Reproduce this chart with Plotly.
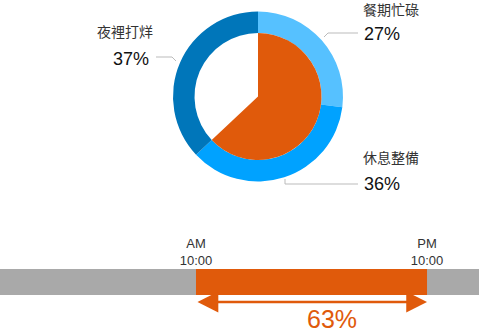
import plotly.graph_objects as go

# ---------------- data ----------------
ring_labels = ["餐期忙碌", "休息整備", "夜裡打烊"]
ring_values = [27, 36, 37]
ring_colors = ["#56C1FF", "#00A2FF", "#0076BA"]

open_share_labels = ["營業", "其他"]
open_share_values = [63, 37]

day_start = -0.18
day_end = 24.7
open_hour = 10
close_hour = 22
tick_vals = [10, 22]
tick_text = ["AM<br>10:00", "PM<br>10:00"]
open_pct_text = "63%"

ORANGE = "#E05A0B"
GRAY = "#A9A9A9"
W, H = 479, 330
FONT = "Helvetica, 'Liberation Sans', 'Noto Sans CJK TC', sans-serif"
CJK = "'Noto Sans CJK TC', sans-serif"

def px(x):
    return x / W

def py(y):
    return 1 - y / H

cx, cy, R, r_in = 258, 96.5, 85, 63.5

fig = go.Figure()

fig.add_trace(go.Pie(
    labels=ring_labels, values=ring_values, hole=r_in / R,
    marker=dict(colors=ring_colors, line=dict(width=0)),
    sort=False, direction="clockwise", rotation=0,
    textinfo="none", hoverinfo="label+percent", showlegend=False,
    domain=dict(x=[px(cx - R), px(cx + R)], y=[py(cy + R), py(cy - R)]),
))
fig.add_trace(go.Pie(
    labels=open_share_labels, values=open_share_values,
    marker=dict(colors=[ORANGE, "rgba(255,255,255,0)"], line=dict(width=0)),
    sort=False, direction="clockwise", rotation=0,
    textinfo="none", hoverinfo="none", showlegend=False,
    domain=dict(x=[px(cx - r_in), px(cx + r_in)], y=[py(cy + r_in), py(cy - r_in)]),
))

# timeline bars
fig.add_trace(go.Bar(
    y=[48], x=[day_end - day_start], base=[day_start], orientation="h",
    width=26, marker=dict(color=GRAY, line=dict(width=0)), showlegend=False,
    hoverinfo="skip",
))
fig.add_trace(go.Bar(
    y=[48], x=[close_hour - open_hour], base=[open_hour], orientation="h",
    width=26, marker=dict(color=ORANGE, line=dict(width=0)), showlegend=False,
    hoverinfo="skip",
))

annotations = []
label_specs = [
    (ring_labels[2], 125, 31, "center", f"{ring_values[2]}%", 151, 59, "right"),
    (ring_labels[0], 362, 9, "left", f"{ring_values[0]}%", 362, 34, "left"),
    (ring_labels[1], 362, 157, "left", f"{ring_values[1]}%", 362, 184, "left"),
]
for name, nx, ny, na, pct, qx, qy, qa in label_specs:
    annotations.append(dict(text=name, x=px(nx), y=py(ny), xref="paper", yref="paper",
                            xanchor=na, yanchor="middle", showarrow=False, borderpad=0,
                            font=dict(family=CJK, size=14, color="#333333")))
    annotations.append(dict(text=pct, x=px(qx), y=py(qy), xref="paper", yref="paper",
                            xanchor=qa, yanchor="middle", showarrow=False,
                            font=dict(family=FONT, size=18, color="#111111")))

# arrow
annotations.append(dict(x=close_hour, y=28, ax=open_hour, ay=28, xref="x", yref="y",
                        axref="x", ayref="y", showarrow=True, arrowside="end+start",
                        arrowhead=2, arrowsize=1.6, arrowwidth=2.6, arrowcolor=ORANGE,
                        text="", standoff=0, startstandoff=0))
annotations.append(dict(text=open_pct_text, x=px(332), y=py(319), xref="paper", yref="paper",
                        xanchor="center", yanchor="middle", showarrow=False, borderpad=0,
                        font=dict(family=FONT, size=25, color=ORANGE)))

leader = dict(color="#BBBBBB", width=1)
shapes = [
    dict(type="path", path=f"M {px(156)} {py(57)} L {px(172)} {py(57)} L {px(176)} {py(61)}",
         xref="paper", yref="paper", line=leader),
    dict(type="path", path=f"M {px(324)} {py(37)} L {px(328)} {py(33)} L {px(358)} {py(33)}",
         xref="paper", yref="paper", line=leader),
    dict(type="path", path=f"M {px(285)} {py(179)} L {px(285)} {py(184)} L {px(358)} {py(184)}",
         xref="paper", yref="paper", line=leader),
]

fig.update_layout(
    width=W, height=H, margin=dict(l=0, r=0, t=0, b=0),
    paper_bgcolor="white", plot_bgcolor="white",
    barmode="overlay", annotations=annotations, shapes=shapes,
    xaxis=dict(range=[day_start, day_end], domain=[0, 1], side="top",
               tickvals=tick_vals, ticktext=tick_text, ticks="", showgrid=False,
               zeroline=False, showline=False, fixedrange=True,
               tickfont=dict(family=FONT, size=13, color="#333333")),
    yaxis=dict(range=[0, 61], domain=[0, 61 / H], showticklabels=False, showgrid=False,
               zeroline=False, showline=False, fixedrange=True),
    font=dict(family=FONT),
)

fig.write_html("out.html")
